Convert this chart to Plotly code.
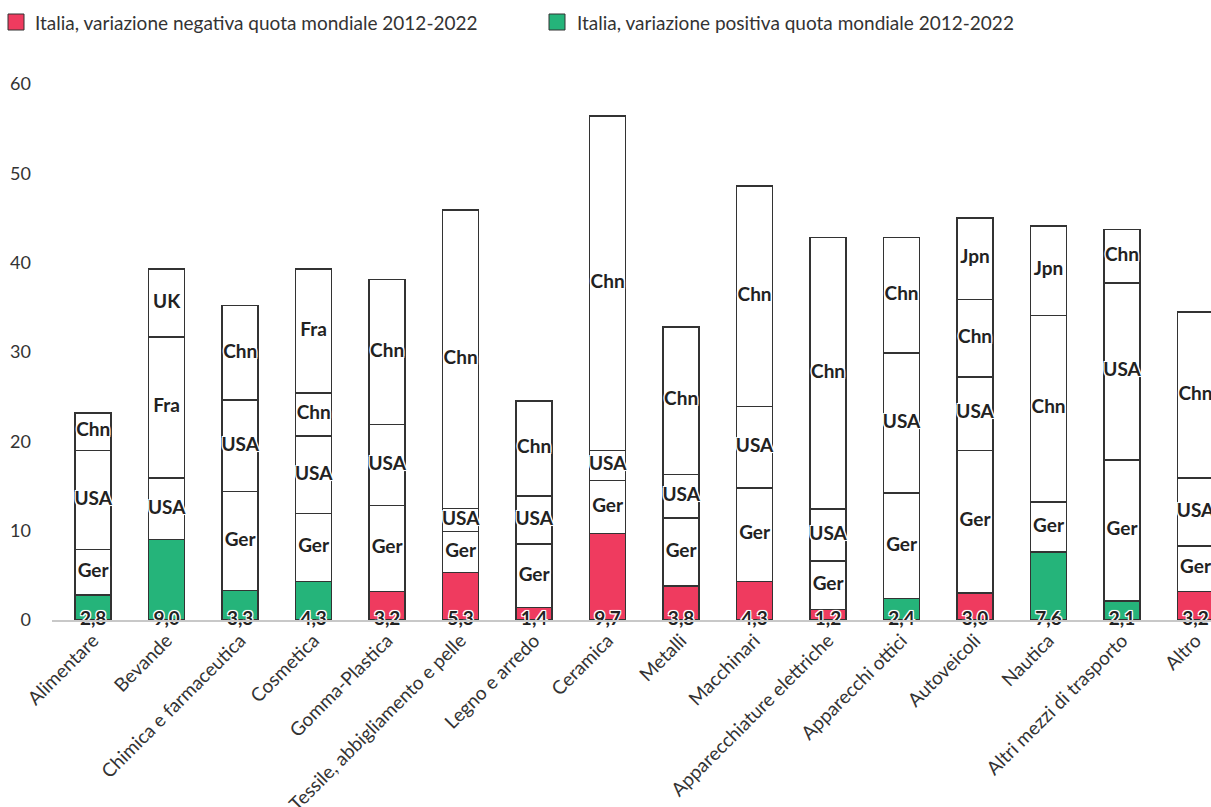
import numpy as np
import plotly.graph_objects as go

categories = ["Alimentare", "Bevande", "Chimica e farmaceutica", "Cosmetica", "Gomma-Plastica",
              "Tessile, abbigliamento e pelle", "Legno e arredo", "Ceramica", "Metalli", "Macchinari",
              "Apparecchiature elettriche", "Apparecchi ottici", "Autoveicoli", "Nautica",
              "Altri mezzi di trasporto", "Altro"]
italy = [2.8, 9.0, 3.3, 4.3, 3.2, 5.3, 1.4, 9.7, 3.8, 4.3, 1.2, 2.4, 3.0, 7.6, 2.1, 3.2]
italy_positive = [True, True, True, True, False, False, False, False, False, False, False, True,
                  False, True, True, False]
ger = [5.1, None, 11.1, 7.6, 9.6, 4.6, 7.1, 5.9, 7.6, 10.5, 5.4, 11.8, 16.0, 5.6, 15.8, 5.1]
usa = [11.1, 6.9, 10.2, 8.7, 9.1, 2.6, 5.4, 3.4, 4.9, 9.1, 5.8, 15.7, 8.2, None, 19.8, 7.6]
chn = [4.2, None, 10.6, 4.8, 16.2, 33.4, 10.6, 37.4, 16.5, 24.7, 30.4, 12.9, 8.7, 20.9, 6.0, 18.6]
fra = [None, 15.8, None, 13.9, None, None, None, None, None, None, None, None, None, None, None, None]
uk = [None, 7.6, None, None, None, None, None, None, None, None, None, None, None, None, None, None]
jpn = [None, None, None, None, None, None, None, None, None, None, None, None, 9.1, 10.0, None, None]

countries = [("Ger", ger), ("USA", usa), ("Chn", chn), ("Fra", fra), ("UK", uk), ("Jpn", jpn)]
legend_labels = ["Italia, variazione negativa quota mondiale 2012-2022",
                 "Italia, variazione positiva quota mondiale 2012-2022"]

RED = "#EF3B5F"
GREEN = "#25B47A"
LINE = "#333333"
TXT = "#222222"
FONT = "Lato, 'Open Sans', sans-serif"
HALO = ("-1px -1px 0 #fff, 1px -1px 0 #fff, -1px 1px 0 #fff, 1px 1px 0 #fff, "
        "0 0 2px #fff, 0 0 2px #fff")

# pixel layout of the plot area
W, H = 1211, 807
ML, MR, MT, MB = 52, 0, 84, 187
PW, PH = W - ML - MR, H - MT - MB


def px_x(x):
    return (x - ML) / PW


def px_y(y):
    return (H - MB - y) / PH


fig = go.Figure()

neg_vals = [v if not p else None for v, p in zip(italy, italy_positive)]
pos_vals = [v if p else None for v, p in zip(italy, italy_positive)]

fig.add_trace(go.Bar(x=categories, y=neg_vals, name=legend_labels[0], showlegend=False,
                     marker=dict(color=RED, line=dict(color=LINE, width=1.5))))
fig.add_trace(go.Bar(x=categories, y=pos_vals, name=legend_labels[1], showlegend=False,
                     marker=dict(color=GREEN, line=dict(color=LINE, width=1.5))))

base = np.array(italy, dtype=float)
for name, vals in countries:
    arr = np.array([np.nan if v is None else v for v in vals], dtype=float)
    fig.add_trace(go.Bar(x=categories, y=vals, name=name, showlegend=False,
                         marker=dict(color="white", line=dict(color=LINE, width=1.5))))
    mask = ~np.isnan(arr)
    mids = base + np.where(mask, arr, 0) / 2
    fig.add_trace(go.Scatter(
        x=[c for c, m in zip(categories, mask) if m],
        y=[float(y) for y, m in zip(mids, mask) if m],
        mode="text", text=[name] * int(mask.sum()), showlegend=False, hoverinfo="skip",
        textposition="middle center",
        textfont=dict(family=FONT, size=19, color=TXT, weight="bold", shadow=HALO)))
    base = base + np.where(mask, arr, 0)

fig.add_trace(go.Scatter(
    x=categories, y=[0] * len(categories), mode="text",
    text=[f"{v:.1f}".replace(".", ",") for v in italy], showlegend=False, hoverinfo="skip",
    textposition="middle center", cliponaxis=False,
    textfont=dict(family=FONT, size=19, color=TXT, weight="bold", shadow=HALO)))

# custom legend (swatch + label)
shapes = []
annotations = []
for (sx, tx), col, lab in zip([(8, 33), (549, 575)], [RED, GREEN], legend_labels):
    shapes.append(dict(type="rect", xref="paper", yref="paper",
                       x0=px_x(sx), x1=px_x(sx + 16), y0=px_y(30), y1=px_y(14),
                       fillcolor=col, line=dict(color=LINE, width=1)))
    annotations.append(dict(xref="paper", yref="paper", x=px_x(tx), y=px_y(23),
                            xanchor="left", yanchor="middle", showarrow=False, text=lab,
                            font=dict(family=FONT, size=19, color="#333333")))

fig.update_layout(
    width=W, height=H,
    barmode="stack", bargap=0.51,
    plot_bgcolor="white", paper_bgcolor="white",
    margin=dict(l=ML, r=MR, t=MT, b=MB, autoexpand=False),
    font=dict(family=FONT, size=18, color="#333333"),
    showlegend=False,
    shapes=shapes, annotations=annotations,
    xaxis=dict(type="category", range=[-0.56, 15.21], showline=True, linecolor="#c8c8c8",
               linewidth=2, tickangle=-45, showgrid=False, ticks="", automargin=False,
               tickfont=dict(size=19, color="#333333")),
    yaxis=dict(range=[0, 60], dtick=10, showgrid=False, zeroline=False, showline=False,
               automargin=False, ticklabelstandoff=20, tickfont=dict(size=18, color="#333333")),
    hovermode=False,
)

fig.write_html("out.html", config={"displayModeBar": False},
               post_script="document.body.style.margin='0';document.body.style.overflow='hidden';")
